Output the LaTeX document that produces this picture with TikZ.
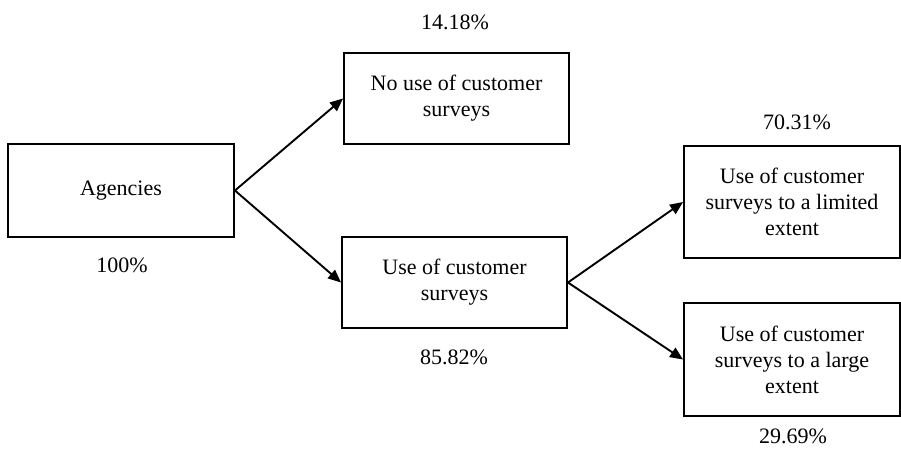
\documentclass[tikz,border=0pt]{standalone}
\usepackage{fontspec}
\setmainfont{Liberation Serif}
\usetikzlibrary{arrows.meta}
\begin{document}
\begin{tikzpicture}[x=1pt,y=-1pt,
  box/.style={draw,line width=1.9pt,rectangle,align=center,inner sep=0pt,
    font=\fontsize{22}{26}\selectfont},
  pct/.style={inner sep=0pt,font=\fontsize{22}{26}\selectfont},
  link/.style={line width=1.9pt,-{Triangle[length=13pt,width=11pt]}}]
\useasboundingbox (0,0) rectangle (901,453);
\node[box,minimum width=226pt,minimum height=93pt] (ag) at (121,190.5) {Agencies};
\node[box,minimum width=225pt,minimum height=91pt] (no) at (456.5,98.5) {No use of customer\\surveys};
\node[box,minimum width=225pt,minimum height=91pt] (use) at (454.5,282.5) {Use of customer\\surveys};
\node[box,minimum width=216pt,minimum height=112pt] (lim) at (792,202) {Use of customer\\surveys to a limited\\extent};
\node[box,minimum width=216pt,minimum height=113pt] (lar) at (792,359.5) {Use of customer\\surveys to a large\\extent};
\node[pct] (p1) at (455,22) {14.18\%};
\node[pct] (p2) at (122,265) {100\%};
\node[pct] (p3) at (454,357) {85.82\%};
\node[pct] (p4) at (797,122) {70.31\%};
\node[pct] (p5) at (793,436) {29.69\%};
\draw[link] (ag.east) -- (no.west);
\draw[link] (ag.east) -- (use.west);
\draw[link] (use.east) -- (lim.west);
\draw[link] (use.east) -- (lar.west);
\end{tikzpicture}
\end{document}
